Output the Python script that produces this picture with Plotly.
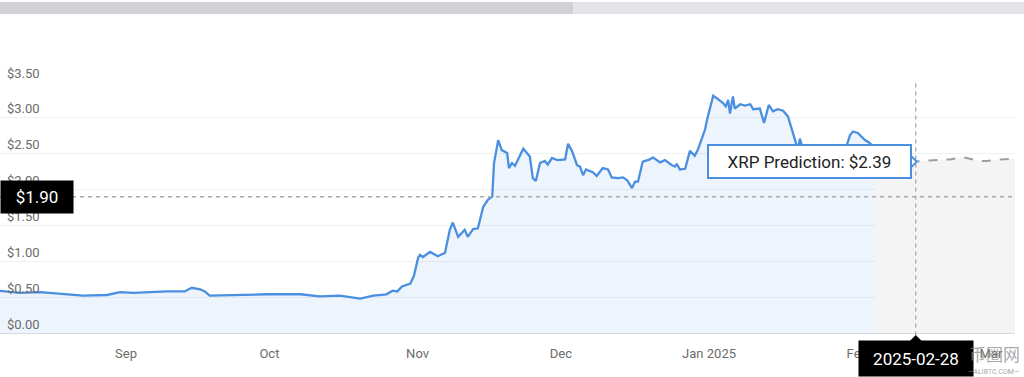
import plotly.graph_objects as go

# ---------------- data ----------------
hist_dates = [
    "2024-08-05 06:00", "2024-08-09 18:00", "2024-08-14 00:00", "2024-08-18 06:00", "2024-08-23 00:00",
    "2024-08-28 00:00", "2024-08-30 18:00", "2024-09-02 12:00", "2024-09-06 00:00", "2024-09-09 12:00",
    "2024-09-13 06:00", "2024-09-14 18:00", "2024-09-16 12:00", "2024-09-17 12:00", "2024-09-18 12:00",
    "2024-09-23 12:00", "2024-09-30 12:00", "2024-10-07 12:00", "2024-10-11 12:00", "2024-10-15 18:00",
    "2024-10-20 00:00", "2024-10-22 18:00", "2024-10-25 12:00", "2024-10-26 18:00", "2024-10-27 18:00",
    "2024-10-28 18:00", "2024-10-30 12:00", "2024-10-31 06:00", "2024-11-01 03:00", "2024-11-01 12:00",
    "2024-11-02 03:00", "2024-11-03 15:00", "2024-11-05 06:00", "2024-11-06 18:00", "2024-11-07 18:00",
    "2024-11-08 09:00", "2024-11-09 12:00", "2024-11-10 21:00", "2024-11-11 12:00", "2024-11-12 15:00",
    "2024-11-13 15:00", "2024-11-14 18:00", "2024-11-15 18:00", "2024-11-16 15:00", "2024-11-17 00:00",
    "2024-11-17 21:00", "2024-11-18 15:00", "2024-11-19 18:00", "2024-11-20 03:00", "2024-11-20 18:00",
    "2024-11-21 09:00", "2024-11-23 03:00", "2024-11-24 12:00", "2024-11-25 03:00", "2024-11-25 18:00",
    "2024-11-26 15:00", "2024-11-27 15:00", "2024-11-28 06:00", "2024-11-29 03:00", "2024-11-30 06:00",
    "2024-12-01 21:00", "2024-12-02 12:00", "2024-12-03 09:00", "2024-12-04 09:00", "2024-12-05 00:00",
    "2024-12-05 15:00", "2024-12-06 06:00", "2024-12-07 18:00", "2024-12-08 12:00", "2024-12-09 18:00",
    "2024-12-10 21:00", "2024-12-11 15:00", "2024-12-13 00:00", "2024-12-14 00:00", "2024-12-14 21:00",
    "2024-12-15 21:00", "2024-12-16 12:00", "2024-12-17 03:00", "2024-12-18 03:00", "2024-12-19 15:00",
    "2024-12-20 06:00", "2024-12-21 18:00", "2024-12-22 18:00", "2024-12-24 06:00", "2024-12-24 21:00",
    "2024-12-25 06:00", "2024-12-25 21:00", "2024-12-27 00:00", "2024-12-28 00:00", "2024-12-29 00:00",
    "2024-12-29 15:00", "2024-12-31 03:00", "2024-12-31 18:00", "2025-01-01 21:00", "2025-01-02 15:00",
    "2025-01-03 06:00", "2025-01-03 21:00", "2025-01-04 12:00", "2025-01-05 00:00", "2025-01-05 09:00",
    "2025-01-06 00:00", "2025-01-06 09:00", "2025-01-07 12:00", "2025-01-08 12:00", "2025-01-09 15:00",
    "2025-01-10 06:00", "2025-01-11 15:00", "2025-01-12 12:00", "2025-01-13 12:00", "2025-01-14 09:00",
    "2025-01-15 09:00", "2025-01-16 12:00", "2025-01-17 12:00", "2025-01-18 09:00", "2025-01-19 00:00",
    "2025-01-19 15:00", "2025-01-20 00:00", "2025-01-21 03:00", "2025-01-23 03:00", "2025-01-25 06:00",
    "2025-01-27 09:00", "2025-01-29 12:00", "2025-01-30 12:00", "2025-01-31 03:00", "2025-02-01 03:00",
    "2025-02-02 15:00", "2025-02-03 15:00", "2025-02-04 21:00",
]
hist_values = [
    0.59, 0.56, 0.57, 0.55, 0.52,
    0.53, 0.57, 0.56, 0.57, 0.58,
    0.58, 0.63, 0.61, 0.58, 0.52,
    0.53, 0.54, 0.54, 0.51, 0.52,
    0.48, 0.52, 0.54, 0.59, 0.58,
    0.65, 0.69, 0.80, 1.05, 1.09,
    1.06, 1.13, 1.07, 1.12, 1.44,
    1.54, 1.34, 1.44, 1.34, 1.45,
    1.46, 1.76, 1.86, 1.90, 2.37,
    2.69, 2.55, 2.51, 2.30, 2.37,
    2.33, 2.57, 2.46, 2.16, 2.12,
    2.37, 2.40, 2.35, 2.44, 2.41,
    2.42, 2.64, 2.53, 2.34, 2.32,
    2.20, 2.28, 2.24, 2.19, 2.30,
    2.28, 2.17, 2.16, 2.17, 2.13,
    2.02, 2.11, 2.11, 2.39, 2.42,
    2.45, 2.38, 2.41, 2.34, 2.32,
    2.36, 2.28, 2.29, 2.54, 2.47,
    2.55, 2.83, 3.02, 3.31, 3.27,
    3.25, 3.21, 3.16, 3.25, 3.06,
    3.30, 3.13, 3.19, 3.17, 3.19,
    3.12, 3.13, 2.93, 3.18, 3.09,
    3.12, 3.10, 3.02, 2.83, 2.67,
    2.55, 2.71, 2.45, 2.50, 2.40,
    2.45, 2.55, 2.76, 2.81, 2.79,
    2.69, 2.65, 2.55,
]

pred_dates = [
    "2025-02-04 21:00", "2025-02-07 21:00", "2025-02-11 00:00", "2025-02-13 06:00", "2025-02-16 21:00",
    "2025-02-20 09:00", "2025-02-23 03:00", "2025-02-25 00:00", "2025-02-26 18:00", "2025-02-28 03:00",
    "2025-03-02 21:00", "2025-03-06 00:00", "2025-03-08 03:00",
]
pred_values = [
    2.50, 2.42, 2.40, 2.39, 2.41,
    2.42, 2.45, 2.42, 2.40, 2.40,
    2.42, 2.43, 2.44,
]

month_ticks = ["2024-09-01", "2024-10-01", "2024-11-01", "2024-12-01",
               "2025-01-01", "2025-02-01", "2025-03-01"]
month_labels = ["Sep", "Oct", "Nov", "Dec", "Jan 2025", "Feb", "Mar"]
x_range = ["2024-08-05 15:00", "2025-03-06 00:30"]
y_ticks = [0.0, 0.5, 1.0, 1.5, 2.0, 2.5, 3.0, 3.5]
y_tick_labels = ["$0.00", "$0.50", "$1.00", "$1.50", "$2.00", "$2.50", "$3.00", "$3.50"]

current_price = 1.90
current_price_label = "$1.90"
crosshair_date = "2025-02-13 06:00"
crosshair_label = "2025-02-28"
prediction_value = 2.39
tooltip_text = "XRP Prediction: $2.39"

# ---------------- styles ----------------
BLUE = "#4a8fe0"
FONT = "Roboto, Arial, sans-serif"
TICK_COLOR = "#6b6b6b"

fig = go.Figure()

fig.add_trace(go.Scatter(
    x=pred_dates, y=pred_values, mode="lines",
    line=dict(color="#9e9e9e", width=2, dash="dash"),
    fill="tozeroy", fillcolor="#f4f4f5",
    hoverinfo="skip", showlegend=False,
))
fig.add_trace(go.Scatter(
    x=hist_dates, y=hist_values, mode="lines",
    line=dict(color=BLUE, width=2.3),
    fill="tozeroy", fillcolor="rgba(74,143,224,0.10)",
    hoverinfo="skip", showlegend=False,
))

shapes = [
    # top bar
    dict(type="rect", xref="paper", yref="paper", x0=-0.01, x1=0.5645, y0=1.271, y1=1.3187,
         fillcolor="#d1d2d6", line=dict(width=0), layer="above"),
    dict(type="rect", xref="paper", yref="paper", x0=0.5645, x1=1.0095, y0=1.271, y1=1.3187,
         fillcolor="#e3e4e9", line=dict(width=0), layer="above"),
    # current price dashed line
    dict(type="line", xref="paper", yref="y", x0=0, x1=1, y0=current_price, y1=current_price,
         line=dict(color="#a8a8a8", width=1.3, dash="4px,4px"), layer="above"),
    # crosshair
    dict(type="line", xref="x", yref="paper", x0=crosshair_date, x1=crosshair_date, y0=-0.01, y1=1,
         line=dict(color="#a8a8a8", width=1.3, dash="4px,4px"), layer="above"),
    # arrow on date label
    dict(type="path", xref="x", yref="paper", xsizemode="pixel", ysizemode="pixel",
         xanchor=crosshair_date, yanchor=0,
         path="M -6,-8 L 0,-2 L 6,-8 Z", fillcolor="black", line=dict(width=0), layer="above"),
    # tooltip chevron
    dict(type="path", xref="x", yref="y", xsizemode="pixel", ysizemode="pixel",
         xanchor=crosshair_date, yanchor=prediction_value,
         path="M -6,7 L 1,0 L -6,-7 Z", fillcolor="white",
         line=dict(color=BLUE, width=2), layer="above"),
]

annotations = []
# y tick labels sitting just above each gridline
for v, lab in zip(y_ticks, y_tick_labels):
    annotations.append(dict(
        xref="paper", yref="y", x=0, y=v, xanchor="left", yanchor="middle",
        xshift=5, yshift=9, text=lab, showarrow=False,
        font=dict(family=FONT, size=13, color=TICK_COLOR)))

annotations += [
    dict(xref="paper", yref="y", x=0, y=current_price, xanchor="left", yanchor="middle",
         text=current_price_label, showarrow=False, bgcolor="black", width=72, height=32,
         borderpad=0, font=dict(family=FONT, size=17, color="white"), align="center"),
    dict(xref="x", yref="y", x=crosshair_date, y=prediction_value, xanchor="right", yanchor="middle",
         xshift=-4, text=tooltip_text, showarrow=False, bgcolor="white", bordercolor=BLUE,
         borderwidth=2, borderpad=0, width=201, height=31,
         font=dict(family=FONT, size=17, color="#222"), align="center"),
    dict(xref="x", yref="paper", x=crosshair_date, y=0, xanchor="center", yanchor="top",
         yshift=-7, text=crosshair_label, showarrow=False, bgcolor="black", width=114, height=35,
         borderpad=0, font=dict(family=FONT, size=17, color="white"), align="center"),
    dict(xref="paper", yref="paper", x=1.007, y=0, xanchor="right", yanchor="top", yshift=-6,
         text="币圈网", showarrow=False,
         font=dict(family="Noto Sans CJK SC", size=17, color="rgba(140,140,140,0.75)")),
    dict(xref="paper", yref="paper", x=1.007, y=0, xanchor="right", yanchor="top", yshift=-33,
         text="—ALIBTC.COM—", showarrow=False,
         font=dict(family=FONT, size=7, color="rgba(140,140,140,0.8)")),
]

fig.update_layout(
    width=1024, height=377,
    margin=dict(l=0, r=9, t=82, b=44),
    paper_bgcolor="white", plot_bgcolor="white",
    font=dict(family=FONT),
    shapes=shapes, annotations=annotations,
    hovermode=False,
    xaxis=dict(
        type="date", range=x_range, tickvals=month_ticks, ticktext=month_labels,
        showgrid=False, zeroline=False, showline=True, linecolor="#d5dbe5", linewidth=1,
        ticks="", ticklabelstandoff=8,
        tickfont=dict(family=FONT, size=13, color=TICK_COLOR), fixedrange=True,
    ),
    yaxis=dict(
        range=[0, 3.5], tickvals=y_ticks, showticklabels=False,
        showgrid=True, gridcolor="#f1f1f1", gridwidth=1,
        zeroline=False, showline=False, ticks="", fixedrange=True,
    ),
)

fig.write_html("out.html", config={"displayModeBar": False},
               post_script="document.body.style.margin='0px';")
